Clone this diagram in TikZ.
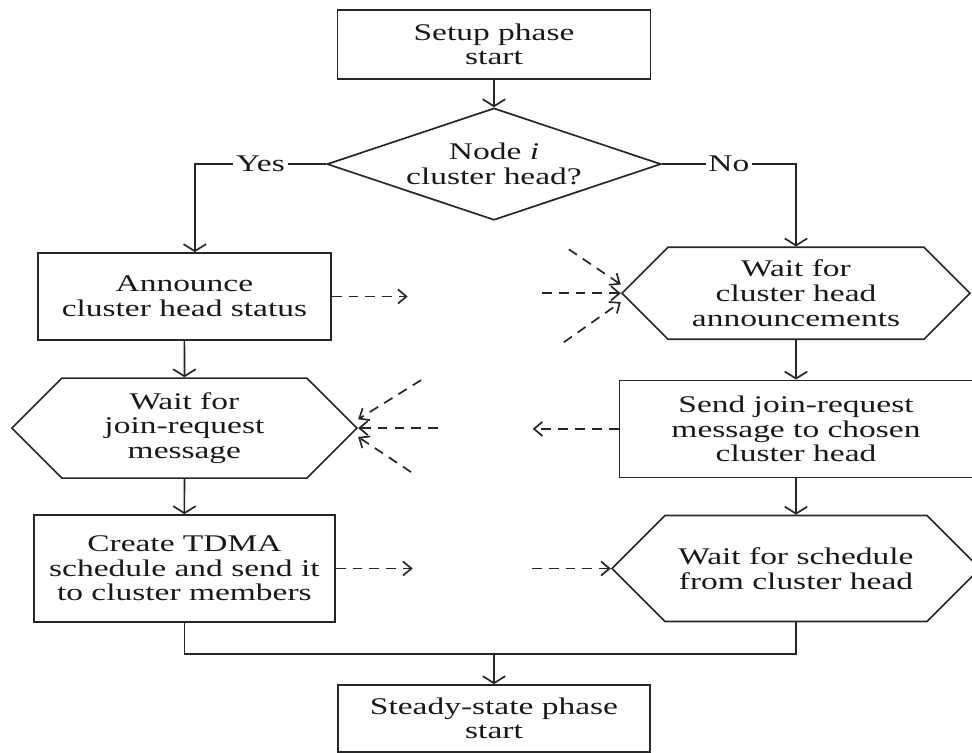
\documentclass[tikz,border=0pt]{standalone}
\usepackage{fontspec}
\setmainfont{Liberation Serif}[FakeStretch=1.4]
\usepackage{tikz}
\usetikzlibrary{arrows.meta}
\usetikzlibrary{positioning}
\usetikzlibrary{shapes.geometric,shapes.symbols}

\begin{document}
\begin{tikzpicture}[node distance=2cm,on grid,
                line width=1.2pt,color=black!85,
                >={Straight Barb[length=5pt,width=16pt]},
                every node/.style={font=\fontsize{17}{17.5}\selectfont,align=center,inner sep=2pt,text=black!90},
                box/.style={draw,rectangle},
                ask/.style={draw,diamond,aspect=3,inner sep=0pt},
                wait/.style={draw,signal,signal to=west and east,signal pointer angle=90,inner sep=0pt},
                msg/.style={dash pattern=on 7pt off 5pt,-{Straight Barb[length=6pt,width=10pt]}}]
                \useasboundingbox (-12.35,-17.7125) rectangle (11.95,1.1125);
                \node[box, minimum width=7.825cm, minimum height=1.725cm] (start_s) {Setup phase\\start};
                \node[ask, minimum width=8.35cm, minimum height=2.8cm] [below=2.99cm of start_s] (decide) {Node \textit{i}\\cluster head?};
                \node[box, minimum width=7.325cm, minimum height=2.175cm] [below left=3.31cm and 7.74cm of decide] (announce) {Announce\\cluster head status};
                \node[wait, minimum width=8.7cm, minimum height=2.3cm] [below right=3.23cm and 7.55cm of decide] (wait_ch) {Wait for\\cluster head\\announcements};
                \node[wait, minimum width=8.625cm, minimum height=2.5cm] [below=3.29cm of announce] (wait_jr) {Wait for\\join-request\\message};
                \node[box, minimum width=7.525cm, minimum height=2.675cm] [below=3.51cm of wait_jr] (create_tdma) {Create TDMA\\schedule and send it\\to cluster members};
                \node[box, minimum width=8.825cm, minimum height=2.425cm] [below=3.39cm of wait_ch] (send_jr) {Send join-request\\message to chosen\\cluster head};
                \node[wait, minimum width=9.2cm, minimum height=2.65cm] [below=3.49cm of send_jr] (wait_sch) {Wait for schedule\\from cluster head};
                \node[box, minimum width=7.8cm, minimum height=1.675cm] [below=16.85cm of start_s] (start_ss) {Steady-state phase\\start};
                \path[->]
                (start_s) edge (decide)
                (announce) edge (wait_jr)
                (wait_jr) edge (create_tdma)
                (wait_ch) edge (send_jr)
                (send_jr) edge (wait_sch);
                \draw[->] (decide.west) -| node[pos=0.25,fill=white] {Yes} ([xshift=0.26cm]announce.north);
                \draw[->] (decide.east) -| node[pos=0.25,fill=white] {No} (wait_ch.north);
                \coordinate[above=0.75cm of start_ss.north] (merge);
                \draw (create_tdma.south) |- (merge) -| (wait_sch.south);
                \draw[->] (merge) -- (start_ss.north);
                \coordinate[right=1.9cm of announce.east] (ann_out);
                \coordinate[left=1.975cm of wait_ch.west] (ch_in);
                \coordinate[above left=1.1cm and 1.3cm of wait_ch.west] (ch_in_a);
                \coordinate[below left=1.225cm and 1.425cm of wait_ch.west] (ch_in_b);
                \coordinate[right=2cm of wait_jr.east] (jr_in);
                \coordinate[above right=1.2cm and 1.575cm of wait_jr.east] (jr_in_a);
                \coordinate[below right=1.1cm and 1.325cm of wait_jr.east] (jr_in_b);
                \coordinate[left=2.15cm of send_jr.west] (jr_out);
                \coordinate[right=1.925cm of create_tdma.east] (tdma_out);
                \coordinate[left=1.975cm of wait_sch.west] (sch_in);
                \draw[msg] (announce.east) -- (ann_out);
                \draw[msg] (ch_in) -- (wait_ch.west);
                \draw[msg] (ch_in_a) -- ([yshift=0.22cm]wait_ch.west);
                \draw[msg] (ch_in_b) -- ([yshift=-0.22cm]wait_ch.west);
                \draw[msg] (jr_in) -- (wait_jr.east);
                \draw[msg] (jr_in_a) -- ([yshift=0.22cm]wait_jr.east);
                \draw[msg] (jr_in_b) -- ([yshift=-0.22cm]wait_jr.east);
                \draw[msg] (send_jr.west) -- (jr_out);
                \draw[msg] (create_tdma.east) -- (tdma_out);
                \draw[msg] (sch_in) -- (wait_sch.west);
\end{tikzpicture}
\end{document}
